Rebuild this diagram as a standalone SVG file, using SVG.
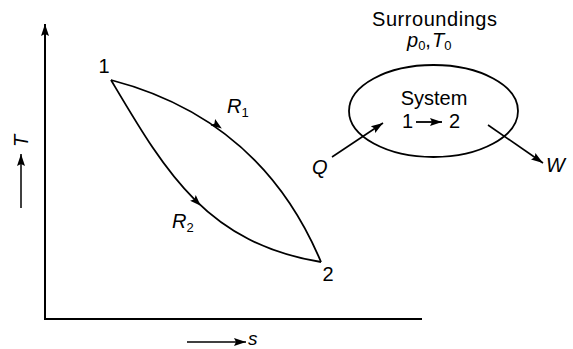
<svg xmlns="http://www.w3.org/2000/svg" width="573" height="349" viewBox="0 0 573 349">
<style>
.ln{fill:none;stroke:#000;stroke-width:1.8}
.t{font-family:"Liberation Sans",Arial,sans-serif;font-size:19px;fill:#000}
.b{font-size:20px}
.i{font-style:italic}
.sub{font-size:13px}
</style>
<defs>
<marker id="ah" markerWidth="14" markerHeight="10" refX="12" refY="5" orient="auto" markerUnits="userSpaceOnUse">
<path d="M0,1 L12,5 L0,9 L2,5 Z" fill="#000"/>
</marker>
<path id="mid" d="M-10,-4 L1,0 L-10,4 L-8,0 Z" fill="#000"/>
</defs>
<rect width="573" height="349" fill="#fff"/>
<g id="axes">
<line class="ln" x1="45" y1="319" x2="45" y2="24" marker-end="url(#ah)" style="stroke-width:2"/>
<line class="ln" x1="44" y1="319" x2="422" y2="319" style="stroke-width:2"/>
<line class="ln" x1="21" y1="208" x2="21" y2="154" marker-end="url(#ah)" style="stroke-width:1.5"/>
<text class="t i b" transform="translate(28,141) rotate(-90)" text-anchor="middle">T</text>
<line class="ln" x1="187" y1="342" x2="246" y2="342" marker-end="url(#ah)" style="stroke-width:1.5"/>
<text class="t i" x="248" y="345">s</text>
</g>
<g id="state1"><text class="t b" x="104" y="73" text-anchor="middle">1</text></g>
<g id="state2"><text class="t b" x="328" y="281" text-anchor="middle">2</text></g>
<g id="connectors">
<path id="R1" class="ln" d="M111,80 Q261,119 321,262"/>
<path id="R2" class="ln" d="M111,80 C164.5,170 205.6,243.3 321,262"/>
<use href="#mid" transform="translate(221,128) rotate(35)"/>
<use href="#mid" transform="translate(200,205) rotate(45)"/>
<line class="ln" x1="332" y1="157" x2="383" y2="123" marker-end="url(#ah)" style="stroke-width:1.6"/>
<line class="ln" x1="488" y1="125" x2="543" y2="163" marker-end="url(#ah)" style="stroke-width:1.6"/>
</g>
<g id="labelR1"><text class="t i b" x="227" y="113">R<tspan class="sub" font-style="normal" dy="4">1</tspan></text></g>
<g id="labelR2"><text class="t i b" x="172" y="228">R<tspan class="sub" font-style="normal" dy="4">2</tspan></text></g>
<g id="system">
<ellipse class="ln" cx="433.5" cy="111" rx="84.5" ry="46"/>
<text class="t b" x="434" y="105" text-anchor="middle">System</text>
<text class="t b" x="402" y="128">1</text>
<line class="ln" x1="416" y1="122" x2="442" y2="122" marker-end="url(#ah)" style="stroke-width:1.8"/>
<text class="t b" x="449" y="128">2</text>
</g>
<g id="surroundings">
<text class="t b" x="372" y="26" textLength="125" lengthAdjust="spacing">Surroundings</text>
<text class="t i b" x="407" y="47">p<tspan class="sub" font-style="normal" dy="3">0</tspan><tspan dy="-3" font-style="normal">,</tspan><tspan dx="1">T</tspan><tspan class="sub" font-style="normal" dy="3">0</tspan></text>
</g>
<g id="Q"><text class="t i b" x="312" y="174">Q</text></g>
<g id="W"><text class="t i b" x="546" y="172">W</text></g>
</svg>
